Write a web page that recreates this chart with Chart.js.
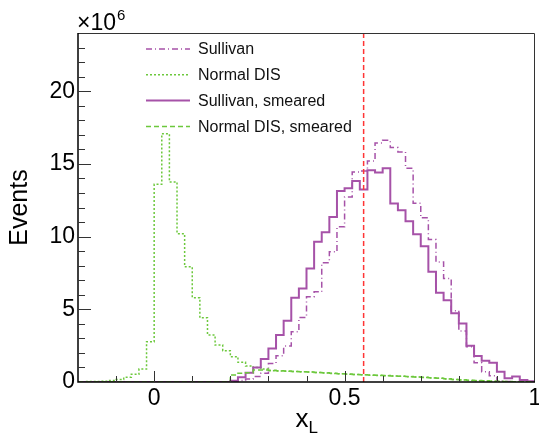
<!DOCTYPE html>
<html>
<head>
<meta charset="utf-8">
<script src="https://cdn.jsdelivr.net/npm/chart.js@4"></script>
<style>
  html, body { margin: 0; padding: 0; background: #fff; }
</style>
</head>
<body>
<canvas id="chart" width="539" height="439"></canvas>
<script>
const xMin = -0.2;
const xMax = 1.0;
const binWidth = 0.02;
const xTicks = [0, 0.5, 1];
const yTicks = [0, 5, 10, 15, 20];
const yMax = 24;
const cutValue = 0.55;

// events per bin (x10^6), 60 bins of 0.02 from -0.2 to 1.0
const sullivan = [
  0, 0, 0, 0, 0, 0, 0, 0, 0, 0,
  0, 0, 0, 0, 0, 0, 0, 0, 0, 0,
  0.03, 0.1, 0.2, 0.37, 0.6, 1.28, 1.81, 2.47, 3.46, 4.44,
  5.86, 6.2, 8.2, 8.95, 10.67, 12.73, 14.44, 14.51, 15.2, 16.44,
  16.62, 16.12, 15.82, 14.7, 12.3, 11.29, 9.8, 8.26, 7.12, 4.9,
  3.5, 2.43, 1.33, 0.71, 0.43, 0.07, 0.03, 0.02, 0.01, 0
];
const normalDIS = [
  0.02, 0.03, 0.04, 0.06, 0.1, 0.18, 0.32, 0.53, 0.89, 2.77,
  13.6, 17.08, 13.76, 10.2, 7.92, 5.8, 4.42, 3.23, 2.54, 2.15,
  1.74, 1.35, 1.1, 1.0, 0.9, 0.78, 0.76, 0.74, 0.72, 0.7,
  0.68, 0.65, 0.62, 0.59, 0.56, 0.53, 0.51, 0.49, 0.47, 0.45,
  0.43, 0.41, 0.39, 0.36, 0.34, 0.31, 0.28, 0.25, 0.21, 0.17,
  0.14, 0.11, 0.09, 0.07, 0.05, 0.03, 0.02, 0.02, 0.01, 0.01
];
const sullivanSmeared = [
  0, 0, 0, 0, 0, 0, 0, 0, 0, 0,
  0, 0, 0, 0, 0, 0, 0, 0, 0, 0,
  0.09, 0.32, 0.64, 1.0, 1.58, 2.31, 3.23, 4.21, 5.79, 6.43,
  7.8, 9.64, 10.3, 11.35, 13.14, 13.32, 13.83, 13.23, 14.56, 14.4,
  14.7, 12.27, 11.81, 11.05, 10.16, 9.34, 7.58, 6.13, 5.63, 4.72,
  4.03, 2.49, 1.79, 1.46, 1.33, 0.71, 0.25, 0.37, 0.14, 0.05
];
const normalDISSmeared = [
  0, 0, 0, 0, 0, 0, 0, 0, 0, 0,
  0, 0, 0, 0, 0, 0, 0, 0, 0, 0,
  0.48, 0.6, 0.64, 0.82, 0.82, 0.8, 0.77, 0.76, 0.73, 0.71,
  0.69, 0.66, 0.63, 0.61, 0.57, 0.55, 0.52, 0.5, 0.48, 0.46,
  0.44, 0.42, 0.4, 0.37, 0.35, 0.32, 0.29, 0.26, 0.22, 0.18,
  0.15, 0.12, 0.1, 0.08, 0.06, 0.04, 0.03, 0.02, 0.02, 0.01
];

const purple = '#a652a8';
const green = '#6cc83c';
const font = '"Liberation Sans", Arial, Helvetica, sans-serif';

// step outline: one point per bin low edge + closing point at xMax
function histPoints(values) {
  const pts = values.map((v, i) => ({ x: xMin + i * binWidth, y: v }));
  pts.push({ x: xMax, y: values[values.length - 1] });
  return pts;
}

function histDataset(label, values, color, dash, width, order) {
  return {
    label: label,
    data: histPoints(values),
    borderColor: color,
    borderDash: dash,
    borderWidth: width,
    stepped: true,
    pointRadius: 0,
    fill: false,
    order: order
  };
}

// frame, inward ticks, legend and the extra ROOT style texts
const rootFrame = {
  id: 'rootFrame',
  afterDatasetsDraw(chart) {
    const { ctx, chartArea: a, scales: { x, y } } = chart;
    ctx.save();
    ctx.setLineDash([]);

    ctx.strokeStyle = '#333';
    ctx.lineWidth = 1;
    ctx.beginPath();
    ctx.moveTo(a.left, a.top + 0.5);
    ctx.lineTo(a.right - 0.5, a.top + 0.5);
    ctx.lineTo(a.right - 0.5, a.bottom);
    ctx.stroke();

    ctx.strokeStyle = '#000';
    ctx.lineWidth = 1.5;
    ctx.beginPath();
    ctx.moveTo(a.left, a.top);
    ctx.lineTo(a.left, a.bottom);
    ctx.lineTo(a.right, a.bottom);
    ctx.stroke();

    ctx.strokeStyle = '#333';
    ctx.lineWidth = 1;
    ctx.beginPath();
    for (let k = -1; k <= 9; k++) {
      const v = k / 10;
      const px = Math.round(x.getPixelForValue(v)) + 0.5;
      const len = xTicks.includes(v) ? 11 : 6;
      ctx.moveTo(px, a.bottom);
      ctx.lineTo(px, a.bottom - len);
    }
    for (let k = 1; k < yMax; k++) {
      const py = Math.round(y.getPixelForValue(k)) + 0.5;
      const len = k % 5 === 0 ? 13 : 7;
      ctx.moveTo(a.left, py);
      ctx.lineTo(a.left + len, py);
    }
    ctx.stroke();

    // legend
    ctx.font = '16px ' + font;
    ctx.textBaseline = 'middle';
    ctx.textAlign = 'left';
    let row = 0;
    chart.data.datasets.forEach(ds => {
      if (!ds.label) return;
      const ly = a.top + 16 + row * 25.8;
      ctx.strokeStyle = ds.borderColor;
      ctx.lineWidth = ds.borderWidth;
      ctx.setLineDash(ds.borderDash || []);
      ctx.beginPath();
      ctx.moveTo(a.left + 68, ly);
      ctx.lineTo(a.left + 112, ly);
      ctx.stroke();
      ctx.setLineDash([]);
      ctx.fillStyle = '#111';
      ctx.fillText(ds.label, a.left + 120, ly + 1);
      row++;
    });

    // x axis title with subscript
    ctx.fillStyle = '#000';
    ctx.textBaseline = 'alphabetic';
    const cx = (a.left + a.right) / 2;
    ctx.font = '26px ' + font;
    ctx.fillText('x', cx - 11, a.bottom + 45);
    ctx.font = '17px ' + font;
    ctx.fillText('L', cx + 2, a.bottom + 51);

    // exponent
    ctx.font = '23px ' + font;
    ctx.fillText('\u00d710', a.left - 1, a.top - 3);
    ctx.font = '15px ' + font;
    ctx.fillText('6', a.left + 39, a.top - 13);
    ctx.restore();
  }
};

const ctx = document.getElementById('chart').getContext('2d');
const chart = new Chart(ctx, {
  type: 'line',
  data: {
    datasets: [
      histDataset('Sullivan', sullivan, purple, [6, 3, 1, 3], 1.5, 4),
      histDataset('Normal DIS', normalDIS, green, [2, 2], 1.5, 3),
      histDataset('Sullivan, smeared', sullivanSmeared, purple, [], 2, 2),
      histDataset('Normal DIS, smeared', normalDISSmeared, green, [5, 3], 1.5, 1),
      {
        data: [{ x: cutValue, y: 0 }, { x: cutValue, y: yMax }],
        borderColor: '#ff3535',
        borderDash: [5, 3],
        borderWidth: 1.5,
        pointRadius: 0,
        order: 0
      }
    ]
  },
  options: {
    responsive: false,
    animation: false,
    devicePixelRatio: 1,
    layout: { padding: { top: 33, right: 4, left: 0, bottom: 0 } },
    plugins: {
      legend: { display: false },
      tooltip: { enabled: false }
    },
    scales: {
      x: {
        type: 'linear',
        min: xMin,
        max: xMax,
        grid: { display: false, drawTicks: false },
        border: { display: false },
        afterBuildTicks: scale => { scale.ticks = xTicks.map(v => ({ value: v })); },
        afterFit: scale => {
          scale.height = 57;
          scale.paddingLeft = 0;
          scale.paddingRight = 0;
        },
        ticks: {
          padding: 3,
          maxRotation: 0,
          autoSkip: false,
          color: '#000',
          font: { family: font, size: 23 },
          callback: v => String(v)
        }
      },
      y: {
        type: 'linear',
        min: 0,
        max: yMax,
        grid: { display: false, drawTicks: false },
        border: { display: false },
        afterBuildTicks: scale => { scale.ticks = yTicks.map(v => ({ value: v })); },
        afterFit: scale => {
          scale.width = 78;
          scale.paddingTop = 0;
          scale.paddingBottom = 0;
        },
        ticks: {
          padding: 3,
          color: '#000',
          font: { family: font, size: 23 },
          callback: v => String(v)
        },
        title: {
          display: true,
          text: 'Events',
          color: '#000',
          font: { family: font, size: 25 },
          padding: { top: 5, bottom: 0 }
        }
      }
    }
  },
  plugins: [rootFrame]
});
</script>
</body>
</html>
